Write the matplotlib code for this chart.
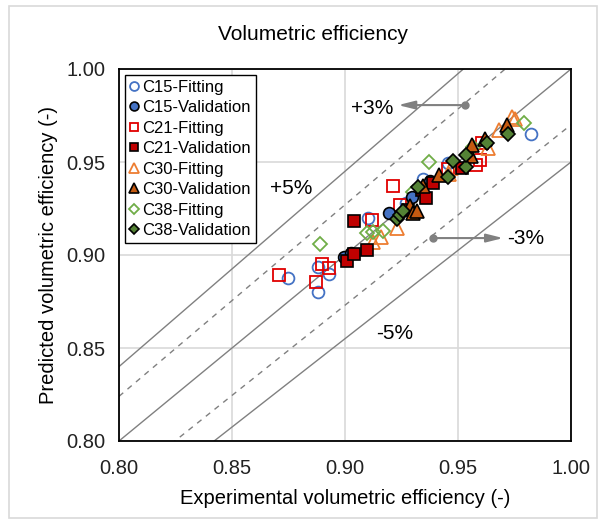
import numpy as np
import matplotlib
matplotlib.use('Agg')
import matplotlib.pyplot as plt
from matplotlib.patches import Rectangle

plt.rcParams['font.family'] = ['Liberation Sans', 'DejaVu Sans']

# data (experimental, predicted)
c15_fit_x = [0.8748, 0.888, 0.893, 0.888, 0.910, 0.927, 0.9345, 0.9456, 0.9544, 0.9823]
c15_fit_y = [0.8876, 0.880, 0.890, 0.8935, 0.920, 0.928, 0.9409, 0.9495, 0.9538, 0.965]
c15_val_x = [0.8996, 0.9027, 0.9195, 0.9296, 0.9376]
c15_val_y = [0.899, 0.901, 0.9226, 0.9312, 0.9398]

c21_fit_x = [0.8708, 0.887, 0.893, 0.890, 0.912, 0.9212, 0.9243, 0.9456, 0.958, 0.9597, 0.9606]
c21_fit_y = [0.8892, 0.8855, 0.893, 0.895, 0.919, 0.9371, 0.9269, 0.9462, 0.9484, 0.951, 0.9602]
c21_val_x = [0.901, 0.904, 0.9097, 0.904, 0.9279, 0.934, 0.9358, 0.939, 0.9518]
c21_val_y = [0.8968, 0.9005, 0.9027, 0.9183, 0.9242, 0.935, 0.9306, 0.9387, 0.9468]

c30_fit_x = [0.9124, 0.916, 0.923, 0.946, 0.947, 0.9633, 0.968, 0.9739, 0.975]
c30_fit_y = [0.907, 0.9097, 0.9145, 0.9435, 0.9468, 0.9575, 0.9672, 0.9742, 0.973]
c30_val_x = [0.9288, 0.930, 0.9319, 0.9345, 0.9416, 0.9558, 0.956, 0.962, 0.9717]
c30_val_y = [0.9263, 0.9226, 0.9237, 0.9371, 0.943, 0.9532, 0.959, 0.9624, 0.970]

c38_fit_x = [0.889, 0.9097, 0.9124, 0.9168, 0.930, 0.9372, 0.9566, 0.979]
c38_fit_y = [0.906, 0.9118, 0.9124, 0.9129, 0.934, 0.950, 0.958, 0.971]
c38_val_x = [0.923, 0.9243, 0.9257, 0.9323, 0.9456, 0.9478, 0.9535, 0.9535, 0.9628, 0.972]
c38_val_y = [0.9194, 0.9215, 0.9237, 0.9366, 0.9419, 0.9505, 0.9473, 0.9538, 0.9602, 0.965]

# error bands
bands = [1.05, 1.03, 1.0, 0.97, 0.95]

fig = plt.figure(figsize=(6.02, 5.24), dpi=100)
ax = fig.add_axes([119/602, 1-441/524, 452/602, 372/524])

# figure border
fig.patches.append(Rectangle((9/602, 6/524), 588/602, 512/524, transform=fig.transFigure,
                             fill=False, edgecolor='#D9D9D9', linewidth=1.2))

xx = np.array([0.8, 1.0])
for f in bands:
    ls = '--' if f in (1.03, 0.97) else '-'
    ax.plot(xx, f * xx, color='#808080', linewidth=1.0, linestyle=ls,
            dashes=(4, 4) if ls == '--' else (None, None), zorder=1)

ms = 8.5
ax.plot(c15_fit_x, c15_fit_y, 'o', ls='none', ms=ms, mfc='none', mec='#4472C4', mew=1.3, label='C15-Fitting', zorder=3)
ax.plot(c15_val_x, c15_val_y, 'o', ls='none', ms=ms, mfc='#4472C4', mec='black', mew=1.2, label='C15-Validation', zorder=4)
ax.plot(c21_fit_x, c21_fit_y, 's', ls='none', ms=ms, mfc='none', mec='#E00000', mew=1.3, label='C21-Fitting', zorder=3)
ax.plot(c21_val_x, c21_val_y, 's', ls='none', ms=ms, mfc='#C00000', mec='black', mew=1.2, label='C21-Validation', zorder=4)
ax.plot(c30_fit_x, c30_fit_y, '^', ls='none', ms=ms+1, mfc='none', mec='#ED7D31', mew=1.3, label='C30-Fitting', zorder=3)
ax.plot(c30_val_x, c30_val_y, '^', ls='none', ms=ms+1, mfc='#C55A11', mec='black', mew=1.2, label='C30-Validation', zorder=4)
ax.plot(c38_fit_x, c38_fit_y, 'D', ls='none', ms=ms-1.5, mfc='none', mec='#70AD47', mew=1.3, label='C38-Fitting', zorder=3)
ax.plot(c38_val_x, c38_val_y, 'D', ls='none', ms=ms-1.5, mfc='#548235', mec='black', mew=1.2, label='C38-Validation', zorder=4)

# annotations
ax.annotate('', xy=(0.9235, 0.9806), xytext=(0.9531, 0.9806),
            arrowprops=dict(arrowstyle='-|>,head_length=1.0,head_width=0.25', color='#808080', lw=1.5,
                            shrinkA=0, shrinkB=0))
ax.plot([0.9531], [0.9806], 'o', color='#808080', ms=5, zorder=5)
ax.annotate('', xy=(0.970, 0.9091), xytext=(0.9389, 0.9091),
            arrowprops=dict(arrowstyle='-|>,head_length=1.0,head_width=0.25', color='#808080', lw=1.5,
                            shrinkA=0, shrinkB=0))
ax.plot([0.9389], [0.9091], 'o', color='#808080', ms=5, zorder=5)
ax.text(0.9119, 0.9785, '+3%', fontsize=15, ha='center', va='center')
ax.text(0.9801, 0.9091, '-3%', fontsize=15, ha='center', va='center')
ax.text(0.8761, 0.936, '+5%', fontsize=15, ha='center', va='center')
ax.text(0.9221, 0.858, '-5%', fontsize=15, ha='center', va='center')

ax.set_xlim(0.8, 1.0)
ax.set_ylim(0.8, 1.0)
ticks = [0.80, 0.85, 0.90, 0.95, 1.00]
ax.set_xticks(ticks)
ax.set_yticks(ticks)
ax.set_xticklabels(['%.2f' % t for t in ticks])
ax.set_yticklabels(['%.2f' % t for t in ticks])
ax.tick_params(axis='x', length=0, pad=13, labelsize=14.5, colors='#222222')
ax.tick_params(axis='y', length=0, pad=10, labelsize=14.5, colors='#222222')
ax.grid(True, color='#D9D9D9', linewidth=1.2, zorder=0)
ax.set_axisbelow(True)
for s in ax.spines.values():
    s.set_color('black')
    s.set_linewidth(1.3)

ax.set_xlabel('Experimental volumetric efficiency (-)', fontsize=14.5, labelpad=8)
ax.set_ylabel('Predicted volumetric efficiency (-)', fontsize=14.5, labelpad=6)
fig.text(313/602, 1-34/524, 'Volumetric efficiency', fontsize=15, ha='center', va='center')

leg = ax.legend(loc='upper left', bbox_to_anchor=(0.013, 0.985), fontsize=12, markerscale=0.75,
                handlelength=0.5, handletextpad=0.25, labelspacing=0.33, borderpad=0.3,
                borderaxespad=0, fancybox=False, framealpha=1)
leg.get_frame().set_edgecolor('black')
leg.get_frame().set_linewidth(1.0)

fig.savefig('out.png', dpi=100)
